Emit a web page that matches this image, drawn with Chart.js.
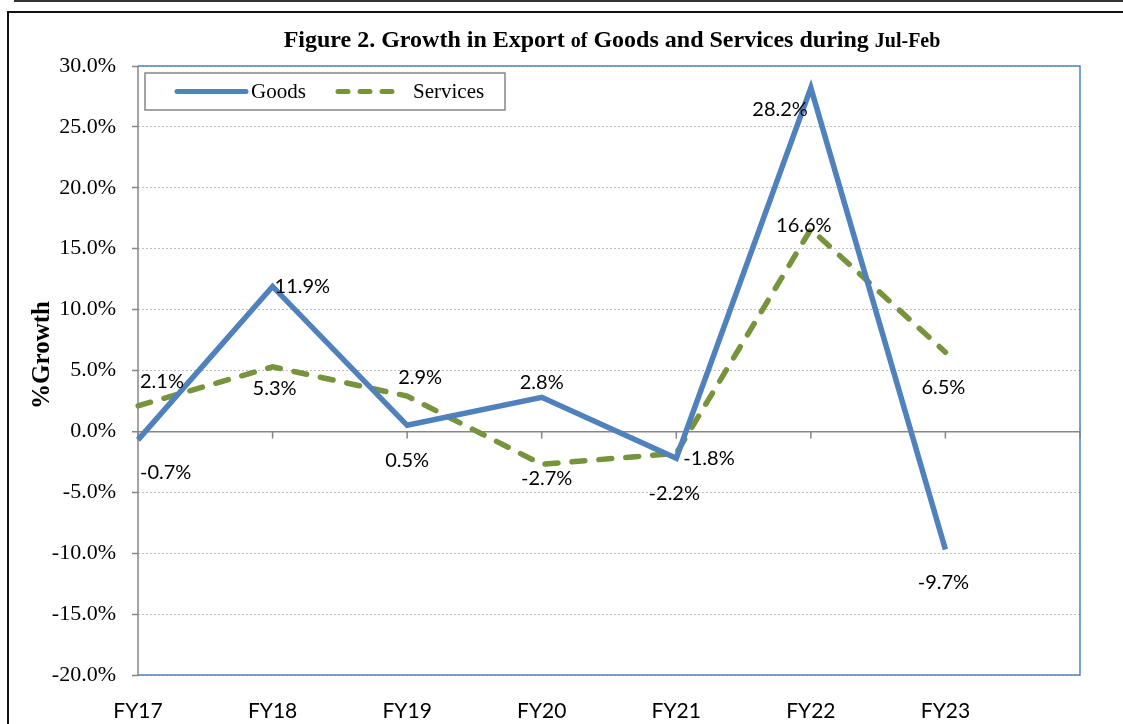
<!DOCTYPE html>
<html>
<head>
<meta charset="utf-8">
<script src="https://cdn.jsdelivr.net/npm/chart.js@4/dist/chart.umd.min.js"></script>
<style>
    html, body { margin: 0; padding: 0; background: #ffffff; overflow: hidden; }
    #wrap { position: relative; width: 1123px; height: 724px; }
    #topRule { position: absolute; left: 14px; top: 0; width: 1109px; height: 2px; background: #333333; }
    #frame { position: absolute; left: 7px; top: 11px; width: 1200px; height: 800px; border: 2px solid #111111; }
    #chartBox { position: absolute; left: 0; top: 0; width: 1123px; height: 724px; }
</style>
</head>
<body>
<div id="wrap">
    <div id="topRule"></div>
    <div id="frame"></div>
    <div id="chartBox"><canvas id="growthChart" width="1123" height="724"></canvas></div>
</div>
<script>
// Fiscal years on the x axis (last slot is an empty category like the source)
const years = ['FY17', 'FY18', 'FY19', 'FY20', 'FY21', 'FY22', 'FY23', ''];

// Growth in %, Jul-Feb
const goodsGrowth = [-0.7, 11.9, 0.5, 2.8, -2.2, 28.2, -9.7];
const servicesGrowth = [2.1, 5.3, 2.9, -2.7, -1.8, 16.6, 6.5];

// y axis range
const yMin = -20;
const yMax = 30;
const yStep = 5;

const BLUE = '#4F81BD';
const GREEN = '#77933C';
const AXIS_GRAY = '#868686';

// label placement around each point: [dx, dy, align]
const goodsLabelPos = [[2, 33, 'left'], [2, 0, 'left'], [0, 35, 'center'], [0, -15, 'center'],
    [-2, 35, 'center'], [-3, 22, 'right'], [-2, 33, 'center']];
const servicesLabelPos = [[2, -24, 'left'], [2, 22, 'center'], [13, -19, 'center'], [5, 14, 'center'],
    [7, 5, 'left'], [-7, -4, 'center'], [-2, 35, 'center']];

const pointLabels = {
    id: 'pointLabels',
    afterDatasetsDraw(chart) {
        const ctx = chart.ctx;
        const placements = [goodsLabelPos, servicesLabelPos];
        ctx.save();
        ctx.font = '20px Lato, "Noto Sans", sans-serif';
        ctx.fillStyle = '#000000';
        ctx.textBaseline = 'middle';
        chart.data.datasets.forEach((ds, di) => {
            const meta = chart.getDatasetMeta(di);
            meta.data.forEach((pt, i) => {
                const p = placements[di][i];
                ctx.textAlign = p[2];
                ctx.fillText(ds.data[i].toFixed(1) + '%', pt.x + p[0], pt.y + p[1]);
            });
        });
        ctx.restore();
    }
};

const frameAndExtras = {
    id: 'frameAndExtras',
    beforeDatasetsDraw(chart) {
        const { ctx, chartArea: a, scales } = chart;
        ctx.save();
        // plot area border (blue) on top, right and bottom
        ctx.strokeStyle = BLUE;
        ctx.lineWidth = 1.5;
        ctx.beginPath();
        ctx.moveTo(a.left, a.top);
        ctx.lineTo(a.right, a.top);
        ctx.lineTo(a.right, a.bottom);
        ctx.lineTo(a.left, a.bottom);
        ctx.stroke();
        // category tick marks hanging from the zero line
        const y0 = scales.y.getPixelForValue(0);
        ctx.strokeStyle = AXIS_GRAY;
        ctx.lineWidth = 1.5;
        ctx.beginPath();
        for (let i = 0; i < years.length; i++) {
            const x = scales.x.getPixelForValue(i);
            ctx.moveTo(x, y0);
            ctx.lineTo(x, y0 + 7);
        }
        ctx.stroke();
        // left axis line
        ctx.beginPath();
        ctx.moveTo(a.left, a.top);
        ctx.lineTo(a.left, a.bottom + 1);
        ctx.stroke();
        ctx.restore();
    },
    afterDraw(chart) {
        const { ctx, chartArea: a } = chart;
        ctx.save();
        // title with mixed sizes
        const parts = [
            ['Figure 2. Growth in Export ', 24],
            ['of', 20],
            [' Goods and Services during ', 24],
            ['Jul-Feb', 20]
        ];
        let total = 0;
        parts.forEach(p => {
            ctx.font = 'bold ' + p[1] + 'px "Liberation Serif", "Times New Roman", serif';
            total += ctx.measureText(p[0]).width;
        });
        let x = 612 - total / 2;
        ctx.fillStyle = '#000000';
        ctx.textBaseline = 'alphabetic';
        ctx.textAlign = 'left';
        parts.forEach(p => {
            ctx.font = 'bold ' + p[1] + 'px "Liberation Serif", "Times New Roman", serif';
            ctx.fillText(p[0], x, 47);
            x += ctx.measureText(p[0]).width;
        });

        // y axis title
        ctx.save();
        ctx.translate(43, 355);
        ctx.rotate(-Math.PI / 2);
        ctx.font = 'bold 25px "Liberation Serif", "Times New Roman", serif';
        ctx.textAlign = 'center';
        ctx.textBaseline = 'middle';
        ctx.fillText('%Growth', 0, 0);
        ctx.restore();

        // legend box
        const lx = a.left + 7, ly = a.top + 7, lw = 360, lh = 37;
        ctx.fillStyle = '#ffffff';
        ctx.fillRect(lx, ly, lw, lh);
        ctx.strokeStyle = AXIS_GRAY;
        ctx.lineWidth = 1.5;
        ctx.strokeRect(lx, ly, lw, lh);
        const my = ly + lh / 2;
        const items = [[lx + 32, lx + 101, lx + 106], [lx + 193, lx + 256, lx + 268]];
        chart.data.datasets.forEach((ds, i) => {
            const it = items[i];
            ctx.strokeStyle = ds.borderColor;
            ctx.lineWidth = 5;
            ctx.lineCap = 'round';
            ctx.setLineDash(ds.borderDash ? [10, 12] : []);
            ctx.beginPath();
            ctx.moveTo(it[0], my);
            ctx.lineTo(it[1], my);
            ctx.stroke();
            ctx.setLineDash([]);
            ctx.fillStyle = '#000000';
            ctx.font = '21px "Liberation Serif", "Times New Roman", serif';
            ctx.textAlign = 'left';
            ctx.textBaseline = 'middle';
            ctx.fillText(ds.label, it[2], my + 1);
        });
        ctx.restore();
    }
};

const ctx = document.getElementById('growthChart').getContext('2d');
new Chart(ctx, {
    type: 'line',
    data: {
        labels: years,
        datasets: [
            {
                label: 'Goods',
                data: goodsGrowth,
                borderColor: BLUE,
                borderWidth: 5.5,
                pointRadius: 0,
                tension: 0,
                borderJoinStyle: 'miter'
            },
            {
                label: 'Services',
                data: servicesGrowth,
                borderColor: GREEN,
                borderWidth: 5.5,
                borderDash: [13, 14],
                borderCapStyle: 'round',
                pointRadius: 0,
                tension: 0
            }
        ]
    },
    options: {
        responsive: false,
        animation: false,
        events: [],
        layout: { padding: { top: 66, right: 43, left: 0, bottom: 0 } },
        plugins: {
            legend: { display: false },
            title: { display: false },
            tooltip: { enabled: false }
        },
        scales: {
            x: {
                offset: false,
                afterFit: s => { s.height = 49; },
                grid: { display: false, drawTicks: false },
                border: { display: false },
                ticks: {
                    padding: 24,
                    maxRotation: 0,
                    autoSkip: false,
                    color: '#000000',
                    font: { family: 'Lato, "Noto Sans", sans-serif', size: 21 }
                }
            },
            y: {
                min: yMin,
                max: yMax,
                afterFit: s => { s.width = 138; },
                grid: {
                    color: ctx2 => ctx2.tick && ctx2.tick.value === 0 ? AXIS_GRAY : '#BFBFBF',
                    lineWidth: ctx2 => ctx2.tick && ctx2.tick.value === 0 ? 1.5 : 1,
                    tickColor: AXIS_GRAY,
                    tickLength: 6,
                    tickWidth: 1.5
                },
                border: {
                    display: false,
                    dash: ctx2 => ctx2.tick && ctx2.tick.value === 0 ? [] : [2, 2]
                },
                ticks: {
                    stepSize: yStep,
                    padding: 16,
                    color: '#000000',
                    font: { family: '"Liberation Serif", "Times New Roman", serif', size: 22 },
                    callback: v => v.toFixed(1) + '%'
                }
            }
        }
    },
    plugins: [frameAndExtras, pointLabels]
});
</script>
</body>
</html>
